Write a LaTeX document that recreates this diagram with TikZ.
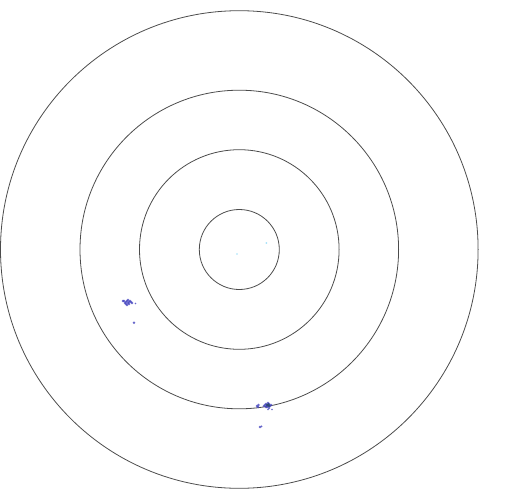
\documentclass[tikz,border=0pt]{standalone}
\definecolor{dotblue}{RGB}{68,68,190}
\definecolor{dotdark}{RGB}{40,70,110}
\begin{document}
\begin{tikzpicture}[x=1pt,y=-1pt,
  ring/.style={draw=black!70,line width=0.8pt},
  pt/.style={fill=dotblue,fill opacity=0.8},
  ptdark/.style={fill=dotdark,fill opacity=0.85},
  ptfaint/.style={fill=cyan!60,fill opacity=0.6}]
\useasboundingbox (0,0) rectangle (515,496);
\coordinate (c) at (239.3,249.5);
\draw[ring] (c) circle[radius=40];
\draw[ring] (c) circle[radius=99.8];
\draw[ring] (c) circle[radius=159.3];
\draw[ring] (c) circle[radius=238.8];
% cluster 1
\foreach \x/\y in {124/301,126/302,127/301,128/303,129/302,130/301,128/300,126/304,131/302,125/303,129/304,127/305,132/303,123/301}
  \fill[pt] (\x,\y) circle[radius=1.3];
\fill[pt] (135.5,303.5) circle[radius=0.8];
\fill[pt] (134,322.7) circle[radius=1.4];
% cluster 2
\foreach \x/\y in {257/406,258/407,258.5/405,265/405,266/404,267/406,268/405,269/404,270/406,268/403,271/405,267/407,269/408,266/407,264/406}
  \fill[pt] (\x,\y) circle[radius=1.3];
\foreach \x/\y in {267/405,268.5/404.5,269/406}
  \fill[ptdark] (\x,\y) circle[radius=1.4];
\fill[pt] (272,409.5) circle[radius=0.9];
\fill[pt] (268,409.5) circle[radius=0.9];
\fill[pt] (260,427) circle[radius=1.3];
\fill[pt] (261.5,426.3) circle[radius=1];
% faint dots
\fill[ptfaint] (266.3,243) circle[radius=1];
\fill[ptfaint] (237,254) circle[radius=0.8];
\end{tikzpicture}
\end{document}
